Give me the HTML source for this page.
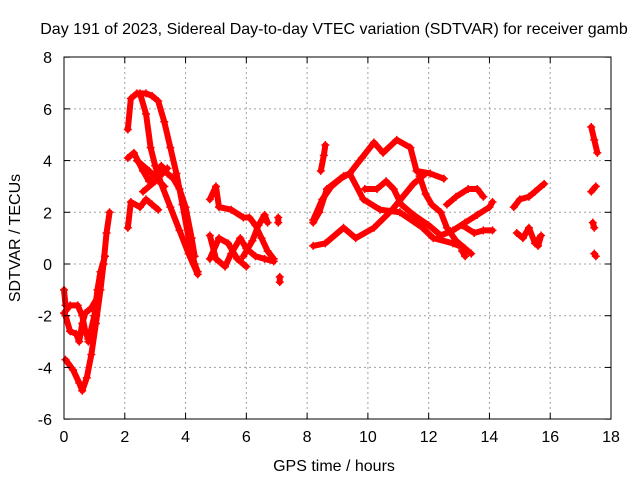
<!DOCTYPE html>
<html><head><meta charset="utf-8"><style>
body{margin:0;background:#fff}
svg text{font-family:"Liberation Sans",sans-serif;font-size:16px;fill:#000}
</style></head><body>
<svg id="chart" width="640" height="480" xmlns="http://www.w3.org/2000/svg">
<rect width="640" height="480" fill="#fff"/>
<g id="grid"></g>
<g id="series"></g>
<rect x="64" y="57" width="547" height="362" fill="none" stroke="#000" stroke-width="1"/>
<g id="ticks"></g>
<text x="334" y="34" text-anchor="middle">Day 191 of 2023, Sidereal Day-to-day VTEC variation (SDTVAR) for receiver gamb</text>
<text x="334" y="471" text-anchor="middle">GPS time / hours</text>
<text transform="translate(20,238) rotate(-90)" text-anchor="middle">SDTVAR / TECUs</text>
</svg>
<script>
const xTicks=[0,2,4,6,8,10,12,14,16,18];
const yTicks=[-6,-4,-2,0,2,4,6,8];
const tracks=[
[[0.05,-3.7],[0.3,-4.1],[0.5,-4.6],[0.6,-4.9],[0.75,-4.4],[0.9,-3.5],[1.05,-2.3],[1.2,-1],[1.3,0],[1.4,1.2],[1.5,2.0]],
[[0,-1.9],[0.2,-1.6],[0.45,-1.6],[0.6,-2.0],[0.7,-2.6],[0.8,-2.9]],
[[0.05,-2.0],[0.2,-2.6],[0.4,-2.7],[0.5,-3.0],[0.6,-2.3],[0.7,-1.9],[0.9,-1.7],[1.1,-1.3],[1.2,-0.5],[1.3,0.0]],
[[0.8,-3.0],[1.0,-2.0],[1.1,-1.0],[1.2,-0.3],[1.35,0.3]],
[[0,-1.0],[0.05,-1.6]],
[[2.1,5.2],[2.2,6.4],[2.4,6.6],[2.7,6.6],[2.9,6.5],[3.1,6.3],[3.3,5.5],[3.5,4.5],[3.7,3.5],[3.9,2.3],[4.1,1.0],[4.3,0.0],[4.4,-0.3]],
[[2.1,4.1],[2.3,4.3],[2.6,3.6],[2.8,3.2],[3.0,3.5],[3.2,3.8],[3.4,3.5],[3.6,3.3],[3.8,2.9],[4.0,2.2],[4.2,1.0],[4.3,0.3]],
[[2.5,6.6],[2.7,5.8],[2.85,4.5],[3.0,3.8],[3.2,3.1],[3.5,2.2],[3.8,1.3],[4.1,0.4],[4.4,-0.4]],
[[2.1,1.4],[2.2,2.4],[2.5,2.2],[2.7,2.5],[2.9,2.3],[3.1,2.1]],
[[2.4,4.0],[2.8,3.6],[3.3,3.0]],
[[2.6,2.8],[3.0,3.2],[3.4,3.7]],
[[4.8,2.5],[5.0,3.0],[5.1,2.2],[5.5,2.1],[5.9,1.8],[6.1,1.8],[6.3,1.5],[6.5,1.0],[6.7,0.5],[6.9,0.2]],
[[5.9,0.3],[6.2,0.9],[6.4,1.5],[6.6,1.9],[6.7,1.6]],
[[4.8,1.1],[5.0,0.2],[5.3,-0.1],[5.5,0.4],[5.8,1.0],[6.0,0.6],[6.3,0.3],[6.6,0.2],[6.9,0.1]],
[[4.8,0.2],[5.1,1.0],[5.4,0.8],[5.7,0.2],[6.0,-0.1]],
[[7.05,1.8],[7.05,1.6]],[[7.1,-0.5],[7.1,-0.7]],
[[8.2,1.7],[8.5,2.5],[8.8,3.0],[9.1,3.3],[9.4,3.5],[9.8,4.1],[10.2,4.7],[10.5,4.3],[10.95,4.8],[11.4,4.5],[11.6,3.6],[12.05,3.5],[12.5,3.3]],
[[8.2,1.6],[8.4,2.0],[8.65,2.9],[9.2,3.4],[9.4,3.5],[9.85,2.5],[10.4,2.1],[11.05,2.0],[11.8,1.4],[12.15,1.0],[12.8,0.8],[13.0,0.7]],
[[8.2,0.7],[8.6,0.8],[9.2,1.4],[9.6,1.0],[10.2,1.4],[10.8,2.1],[11.5,3.1],[11.9,3.5]],
[[9.9,2.9],[10.3,2.9],[10.6,3.2],[10.85,2.9],[11.1,2.3],[11.5,1.9],[12.0,1.5],[12.4,1.1],[12.8,1.3],[13.2,1.6],[13.6,1.9],[14.0,2.2],[14.1,2.4]],
[[11.7,3.4],[11.9,2.7],[12.1,2.3],[12.4,2.0],[12.6,1.4],[12.9,0.9],[13.2,0.6],[13.4,0.4]],
[[12.6,2.3],[12.9,2.6],[13.3,2.9],[13.6,2.9],[13.8,2.6]],
[[13.1,1.5],[13.5,1.2],[13.8,1.3],[14.1,1.3]],
[[13.1,0.5],[13.2,0.3]],
[[8.45,3.6],[8.55,4.2],[8.6,4.6]],
[[14.8,2.2],[15.0,2.5],[15.3,2.6],[15.5,2.8],[15.8,3.1]],
[[14.9,1.2],[15.1,1.0],[15.3,1.4],[15.5,0.8],[15.7,1.1],[15.6,0.7]],
[[17.35,5.3],[17.45,4.8],[17.55,4.3]],
[[17.35,2.8],[17.5,3.0]],
[[17.4,1.6],[17.45,1.4]],
[[17.45,0.4],[17.5,0.3]]
];
const X=h=>64+h*(547/18);
const Y=v=>264-v*(362/14);
const NS="http://www.w3.org/2000/svg";
const grid=document.getElementById('grid'),tk=document.getElementById('ticks'),ser=document.getElementById('series');
function mk(tag,attrs,parent){const e=document.createElementNS(NS,tag);for(const k in attrs)e.setAttribute(k,attrs[k]);parent.appendChild(e);return e;}
xTicks.forEach(t=>{
  const x=X(t);
  if(t>0&&t<18){const g=mk('line',{x1:x,x2:x,y1:57,y2:419,stroke:'#a0a0a0','stroke-dasharray':'2,3'},grid);
  
  }
  mk('line',{x1:x,x2:x,y1:419,y2:413,stroke:'#000'},tk);
  mk('line',{x1:x,x2:x,y1:57,y2:63,stroke:'#000'},tk);
  const l=mk('text',{x:x,y:442,'text-anchor':'middle'},tk);l.textContent=t;
  
  
});
yTicks.forEach(t=>{
  const y=Y(t);
  if(t>-6&&t<8){const g=mk('line',{x1:64,x2:611,y1:y,y2:y,stroke:'#a0a0a0','stroke-dasharray':'2,3'},grid);
  
  }
  mk('line',{x1:64,x2:70,y1:y,y2:y,stroke:'#000'},tk);
  mk('line',{x1:611,x2:605,y1:y,y2:y,stroke:'#000'},tk);
  const l=mk('text',{x:52,y:y+6,'text-anchor':'end'},tk);l.textContent=t;
  
  
});
tracks.forEach(tr=>{
  const p=mk('polyline',{points:tr.map(d=>X(d[0])+','+Y(d[1])).join(' '),fill:'none',stroke:'#ff0000','stroke-width':6,'stroke-linejoin':'round','stroke-linecap':'round'},ser);
  
  
  tr.forEach(d=>{
    const x=X(d[0]),y=Y(d[1]);
    const m=mk('path',{d:`M${x-4},${y}H${x+4}M${x},${y-4}V${y+4}`,stroke:'#ff0000','stroke-width':1.5},ser);
    
    
  });
});
</script>
</body></html>
